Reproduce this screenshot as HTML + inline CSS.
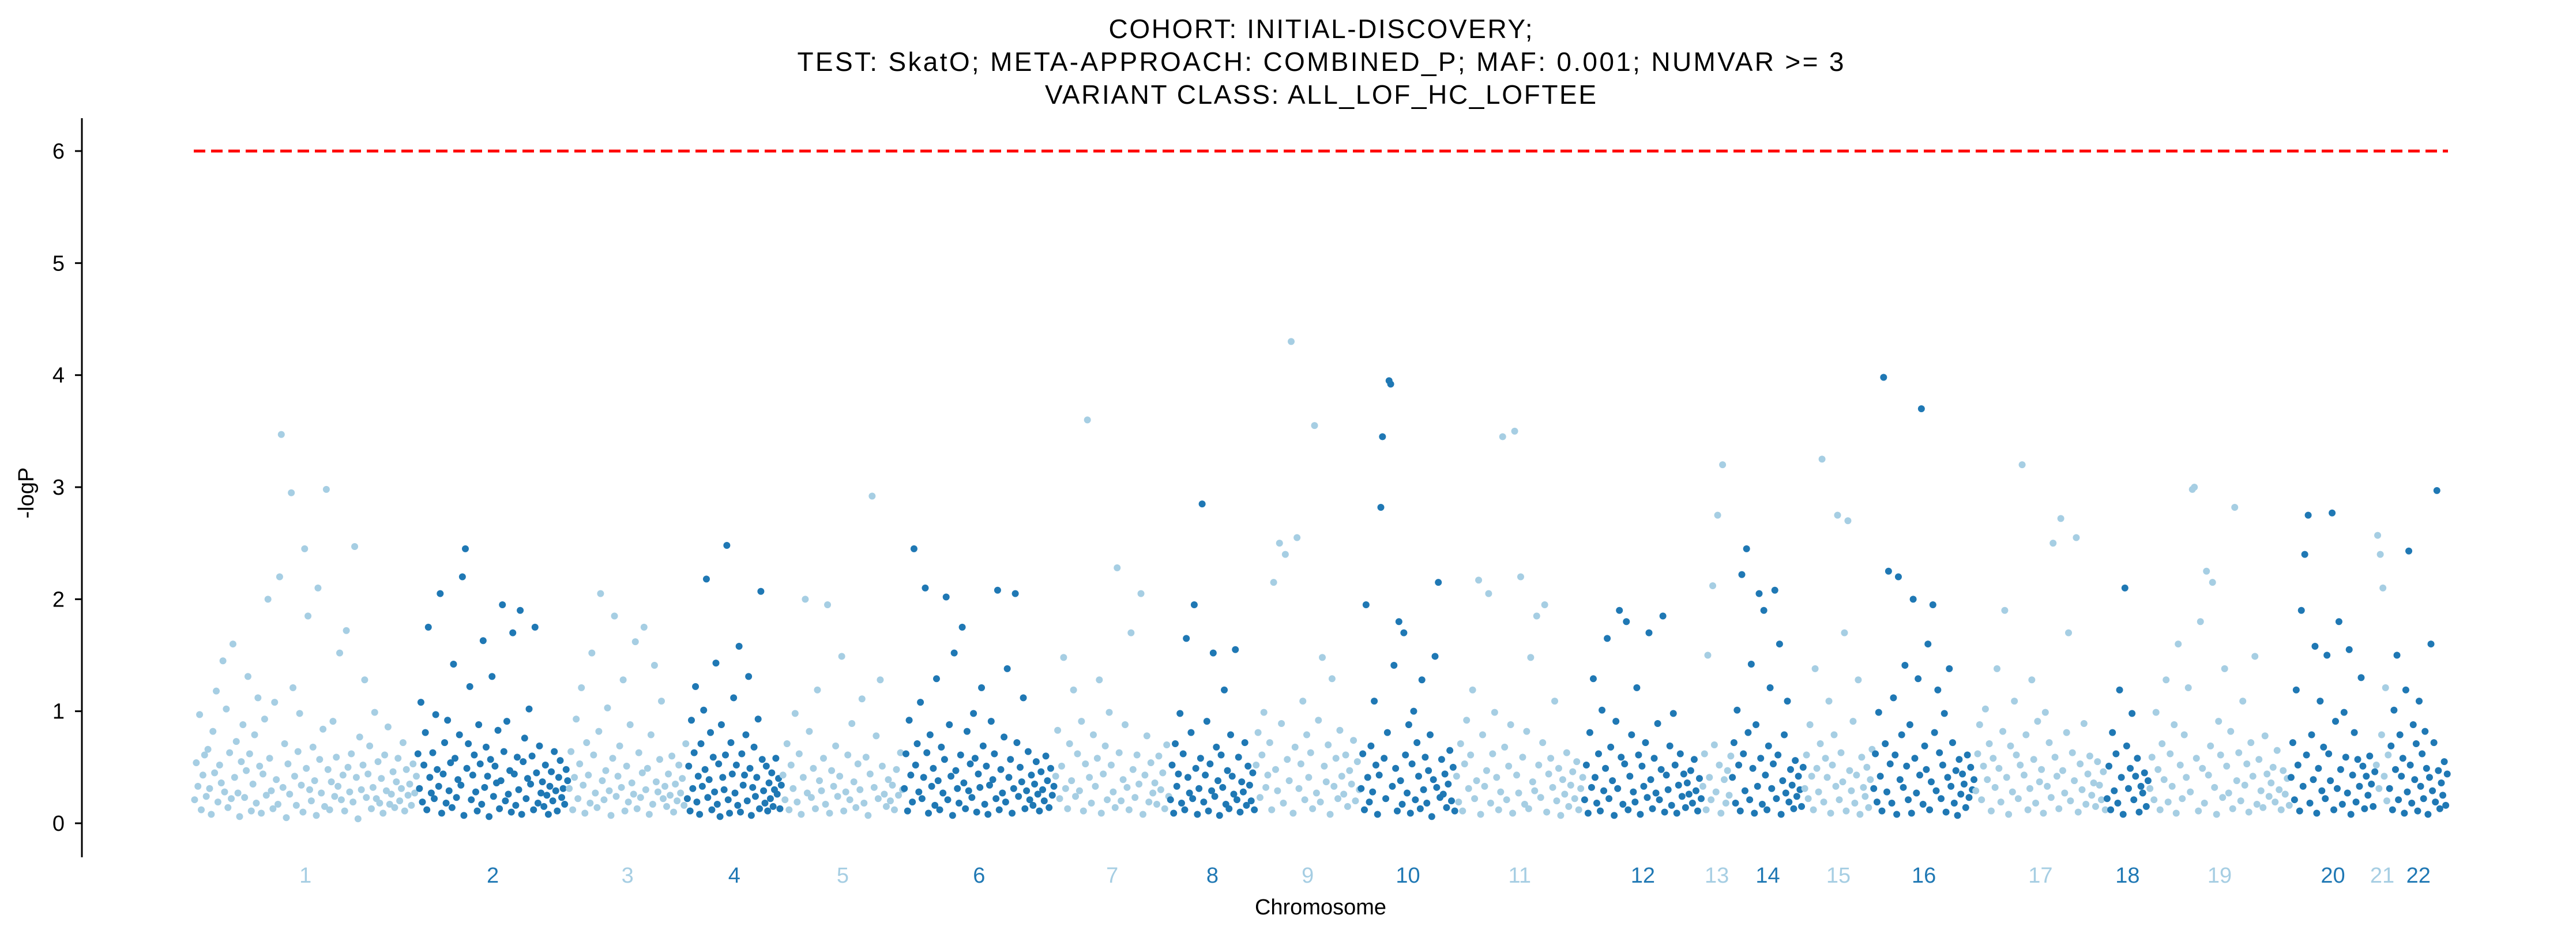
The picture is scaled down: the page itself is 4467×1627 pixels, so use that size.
<!DOCTYPE html>
<html><head><meta charset="utf-8"><style>
html,body{margin:0;padding:0;background:#fff;}
svg{display:block;font-family:"Liberation Sans","DejaVu Sans",sans-serif;}
</style></head><body>
<svg id="chart" width="4467" height="1627" viewBox="0 0 4467 1627" xmlns="http://www.w3.org/2000/svg">
<g font-size="46" text-anchor="middle" fill="#000">
<text x="2290" y="66" textLength="735">COHORT: INITIAL-DISCOVERY;</text>
<text x="2290" y="123" textLength="1815">TEST: SkatO; META-APPROACH: COMBINED_P; MAF: 0.001; NUMVAR &gt;= 3</text>
<text x="2290" y="180" textLength="956">VARIANT CLASS: ALL_LOF_HC_LOFTEE</text>
</g>
<line x1="142" y1="205" x2="142" y2="1487" stroke="#000" stroke-width="3"/>
<g id="yticks"></g>
<text x="48" y="855" font-size="38" text-anchor="middle" transform="rotate(-90 48 855)" dominant-baseline="middle">-logP</text>
<g id="points"></g>
<line id="thresh" stroke="#ff0000" stroke-width="5" stroke-dasharray="20,10"/>
<g id="xlabels"></g>
<text x="2290" y="1586" font-size="38" text-anchor="middle">Chromosome</text>
</svg>
<script>
const chromNames=["1","2","3","4","5","6","7","8","9","10","11","12","13","14","15","16","17","18","19","20","21","22"];
const chromSizes=[136,92,72,58,74,92,70,52,64,58,78,72,18,44,42,62,80,26,86,52,8,36];
const yTicks=[0,1,2,3,4,5,6];
const threshold=6;
const c1=[.21,.54,.33,.97,.12,.43,.61,.24,.66,.31,.08,.82,.45,1.18,.19,.52,.36,1.45,.28,1.02,.14,.63,.22,1.6,.41,.73,.27,.06,.55,.88,.23,.47,1.31,.62,.11,.35,.79,.18,1.12,.51,.09,.44,.93,.25,2.0,.58,.29,.13,1.08,.39,.17,2.2,3.47,.32,.71,.05,.53,.26,2.95,1.21,.42,.16,.64,.98,.34,.1,2.45,.49,1.85,.3,.2,.68,.38,.07,2.1,.57,.27,.84,.15,2.98,.48,.12,.37,.91,.24,.59,.33,1.52,.21,.43,.11,1.72,.5,.28,.62,.19,2.47,.41,.04,.77,.3,.52,1.28,.23,.44,.69,.13,.32,.99,.22,.55,.18,.4,.09,.61,.29,.86,.17,.26,.46,.14,.37,.58,.2,.31,.72,.11,.48,.25,.35,.16,.53,.27,.42];
const c2=[.62,.31,1.08,.19,.52,.81,.12,1.75,.41,.27,.63,.22,.97,.48,.33,2.05,.09,.44,.72,.18,.92,.29,.54,.14,1.42,.58,.23,.39,.79,.34,2.2,.07,2.45,.49,.71,1.22,.21,.43,.61,.28,.11,.88,.53,.17,1.63,.32,.68,.42,.06,.57,1.31,.24,.51,.36,.83,.13,.38,1.95,.64,.2,.91,.26,.47,.1,1.7,.44,.16,.59,.3,1.9,.08,.55,.76,.22,.4,1.02,.35,.6,.12,1.75,.45,.18,.69,.27,.37,.15,.52,.25,.08,.33,.46,.2,.64,.29,.11,.41,.56,.23,.31,.17,.48,.38];
const c3=[.31,.64,.12,.41,.93,.22,.53,1.21,.34,.09,.72,.43,.18,1.52,.61,.27,.14,.82,2.05,.38,.21,.47,1.03,.29,.07,.58,1.85,.24,.42,.69,.32,1.28,.11,.51,.19,.88,.36,.26,1.62,.13,.63,.23,.45,1.75,.3,.49,.08,.79,.17,1.41,.37,.28,.57,1.09,.22,.33,.15,.44,.25,.6,.1,.35,.2,.52,.27,.4,.16,.71];
const c4=[.22,.51,.11,.92,.31,.63,1.22,.19,.42,.08,.71,.33,1.01,.48,2.18,.23,.39,.81,.12,.59,.28,1.43,.17,.53,.06,.88,.41,.3,.61,2.48,.21,.09,.72,.44,1.12,.27,.52,.16,1.58,.1,.62,.34,.43,.79,.2,1.31,.49,.07,.32,.68,.24,.41,.93,.13,2.07,.57,.29,.18,.51,.11,.36,.22,.45,.15,.3,.58,.26,.4,.13,.34];
const c5=[.43,.21,.71,.12,.52,.31,.98,.19,.62,.08,.41,2.0,.27,.82,.23,.49,.13,1.19,.38,.29,.58,.17,1.95,.09,.47,.33,.69,.24,.42,1.49,.11,.28,.61,.21,.89,.37,.14,.53,.3,1.11,.18,.59,.07,.44,2.92,.32,.78,.22,1.28,.51,.26,.15,.39,.2,.34,.12,.48,.25,.63,.3];
const c6=[.31,.62,.11,.92,.43,.19,2.45,.52,.71,.28,1.08,.22,.41,2.1,.63,.09,.79,.33,.49,.16,1.29,.38,.12,.68,.27,.57,2.02,.21,.88,.42,.07,1.52,.47,.31,.18,.61,1.75,.36,.13,.82,.29,.53,.23,.98,.58,.1,.44,.32,1.21,.69,.17,.51,.08,.34,.91,.39,.62,.22,2.08,.12,.48,.27,.77,.19,1.38,.41,.57,.09,.31,2.05,.72,.24,.5,.37,1.12,.13,.29,.64,.21,.43,.16,.35,.55,.26,.11,.46,.3,.2,.6,.38,.14,.49,.25,.33];
const c7=[.42,.83,.22,.51,1.48,.31,.13,.71,.38,1.19,.24,.62,.29,.91,.11,.53,3.6,.41,.18,.79,.33,.58,1.28,.09,.44,.69,.21,.99,.52,.28,.14,2.28,.63,.2,.39,.88,.32,.12,1.7,.48,.23,.61,.35,2.05,.08,.43,.78,.19,.54,.27,.36,.17,.6,.3,.45,.13,.7,.24];
const c8=[.21,.52,.09,.71,.33,.44,.98,.18,.62,.12,1.65,.41,.27,.81,.22,1.95,.49,.08,.31,.58,2.85,.19,.43,.91,.11,.53,.29,1.52,.24,.68,.38,.07,.61,.32,1.19,.17,.47,.13,.79,.42,.26,1.55,.21,.59,.1,.37,.28,.72,.16,.51,.34,.2,.45,.12];
const c9=[.52,.81,.23,.61,.99,.32,.43,.72,.12,2.15,.48,.29,2.5,.89,.18,2.4,.57,.38,4.3,.09,.68,2.55,.31,.53,1.09,.21,.79,.41,.63,.13,3.55,.27,.92,.19,1.48,.51,.37,.7,.08,1.29,.33,.58,.22,.83,.42,.26,.61,.15,.47,.35,.74,.2,.55,.3];
const c10=[.31,.62,.12,1.95,.41,.19,.69,.28,1.09,.52,.08,.43,2.82,3.45,.58,.22,.81,3.95,3.92,.33,1.41,.49,.11,1.8,.38,.17,1.7,.61,.27,.88,.09,.53,1.0,.21,.72,.42,.13,1.28,.3,.59,.18,.47,.79,.06,.39,1.49,.32,2.15,.23,.57,.26,.44,.14,.35,.65,.2,.5,.11];
const c11=[.42,.19,.71,.11,.53,.92,.31,.61,1.19,.22,.38,2.17,.08,.79,.33,.47,2.05,.18,.62,.99,.41,.12,.28,3.45,.68,.21,.51,.88,.09,3.5,.43,.27,2.2,.59,.17,.82,.13,1.48,.37,.29,1.85,.52,.23,.72,1.95,.1,.44,.58,.32,1.09,.2,.49,.07,.39,.26,.63,.15,.34,.46,.22,.55,.12,.31,.41];
const c12=[.21,.52,.09,.81,.32,1.29,.41,.18,.62,.11,1.01,.29,.49,1.65,.22,.68,.38,.07,.91,.31,1.9,.59,.17,.53,1.8,.12,.42,.79,.28,.19,1.21,.61,.08,.51,.33,.72,.23,1.7,.39,.13,.58,.27,.89,.21,.48,1.85,.1,.43,.3,.69,.16,.98,.52,.09,.34,.62,.24,.44,.14,.36,.26,.47,.18,.57,.29,.11,.4,.22];
const c13=[.33,.62,.12,1.5,.41,.21,2.12,.7,.28,2.75,.52,.09,3.2,.39,.18,.47,.25,.6];
const c14=[.41,.72,.18,1.01,.52,.11,2.22,.62,.29,2.45,.81,.21,1.42,.49,.09,.88,.33,2.05,.58,.17,1.9,.43,.12,.69,1.21,.31,.53,2.08,.22,.61,1.6,.08,.38,.79,.27,1.09,.19,.48,.34,.13,.56,.24,.42,.3,.15,.5];
const c15=[.31,.61,.22,.88,.42,.12,1.38,.49,.28,.71,3.25,.19,.58,.41,1.09,.09,.52,.79,.33,2.75,.21,.63,.37,1.7,.11,2.7,.47,.29,.91,.18,.43,1.28,.08,.59,.32,.24,.5,.14,.39,.66];
const c16=[.31,.62,.19,.99,.42,.11,3.98,.71,.28,2.25,.53,.18,1.12,.61,.08,2.2,.39,.79,.32,1.41,.51,.21,.88,.09,2.0,.58,.27,1.29,.43,3.7,.17,.69,.48,1.6,.12,.37,1.95,.81,.29,1.19,.63,.22,.52,.98,.1,.41,1.38,.33,.72,.18,.47,.07,.57,.26,.44,.35,.14,.61,.23,.5,.3,.39];
const c17=[.29,.62,.88,.21,.51,1.02,.39,.71,.11,.58,.32,1.38,.49,.19,.82,1.9,.41,.08,.69,.28,1.09,.61,.22,.52,3.2,.43,.79,.12,.31,1.28,.57,.18,.91,.37,.48,.09,.99,.33,.72,.23,2.5,.59,.42,.13,2.72,.47,.27,.81,1.7,.2,.63,.38,2.55,.1,.53,.3,.89,.17,.44,.6,.25,.36,.15,.55,.34,.21,.46,.12];
const c18=[.22,.51,.12,.81,.29,.62,.18,1.19,.41,.08,2.1,.69,.31,.49,.98,.21,.42,.58,.1,.33,.27,.45,.15,.38];
const c19=[.31,.59,.21,.99,.48,.12,.71,.39,1.28,.19,.62,.33,.88,.09,1.6,.52,.22,.79,.41,1.21,.28,2.98,3.0,.58,.11,1.8,.49,.18,2.25,.43,.69,2.15,.32,.08,.91,.61,.23,1.38,.51,.27,.82,.13,2.82,.38,.63,.2,1.09,.34,.53,.1,.72,.42,1.49,.17,.57,.29,.14,.78,.44,.24,.36,.5,.19,.65,.3,.12,.47,.26,.4,.16];
const c20=[.41,.72,.21,1.19,.52,.11,1.9,.33,2.4,.61,2.75,.18,.79,.39,1.58,.09,.49,1.09,.29,.68,.22,1.5,.62,.38,2.77,.12,.91,.31,1.8,.48,.17,.99,.59,.27,1.55,.08,.43,.81,.19,.57,.33,1.3,.51,.13,.42,.25,.6,.35,.15,.46];
const c21=[.52,2.57,.31,2.4,.79,2.1,.42,1.21,.2,.61];
const c22=[.31,.69,.12,1.01,.48,1.5,.21,.79,.42,.58,.09,1.19,.28,2.43,.52,.18,.88,.39,.71,.11,1.09,.33,.62,.22,.82,.49,.08,.41,1.6,.29,.72,.19,2.97,.47,.13,.36,.25,.55,.16,.44];
const chromValues=[c1,c2,c3,c4,c5,c6,c7,c8,c9,c10,c11,c12,c13,c14,c15,c16,c17,c18,c19,c20,c21,c22];

const NS="http://www.w3.org/2000/svg";
const X0=336,X1=4245,Y0=1428,Y6=262;
const total=chromSizes.reduce((a,b)=>a+b,0);
function xScale(v){return X0+(X1-X0)*v/total;}
function yScale(v){return Y0-(Y0-Y6)*v/6;}
const light="#a6cee3",dark="#1f78b4";

const yt=document.getElementById('yticks');
yTicks.forEach(t=>{
  const y=yScale(t);
  const l=document.createElementNS(NS,'line');
  l.setAttribute('x1',130);l.setAttribute('x2',142);l.setAttribute('y1',y);l.setAttribute('y2',y);
  l.setAttribute('stroke','#000');l.setAttribute('stroke-width',3);
  
  
  yt.appendChild(l);
  const tx=document.createElementNS(NS,'text');
  tx.setAttribute('x',112);tx.setAttribute('y',y+13);tx.setAttribute('font-size',38);tx.setAttribute('text-anchor','end');
  tx.textContent=t;
  
  
  yt.appendChild(tx);
});
const th=document.getElementById('thresh');
th.setAttribute('x1',X0);th.setAttribute('x2',X1);th.setAttribute('y1',yScale(threshold));th.setAttribute('y2',yScale(threshold));

const pts=document.getElementById('points');
const xl=document.getElementById('xlabels');
let start=0;
chromNames.forEach((name,i)=>{
  const size=chromSizes[i], vals=chromValues[i], col=i%2===0?light:dark;
  const g=document.createElementNS(NS,'g');
  g.setAttribute('fill',col);
  
  
  vals.forEach((v,j)=>{
    const c=document.createElementNS(NS,'circle');
    c.setAttribute('cx',xScale(start+size*(j+0.5)/vals.length));
    c.setAttribute('cy',yScale(v));
    c.setAttribute('r',6);
    
    
    g.appendChild(c);
  });
  pts.appendChild(g);
  const t=document.createElementNS(NS,'text');
  t.setAttribute('x',xScale(start+size/2));t.setAttribute('y',1531);
  t.setAttribute('font-size',38);t.setAttribute('text-anchor','middle');t.setAttribute('fill',col);
  t.textContent=name;
  
  
  xl.appendChild(t);
  start+=size;
});
</script>
</body></html>
